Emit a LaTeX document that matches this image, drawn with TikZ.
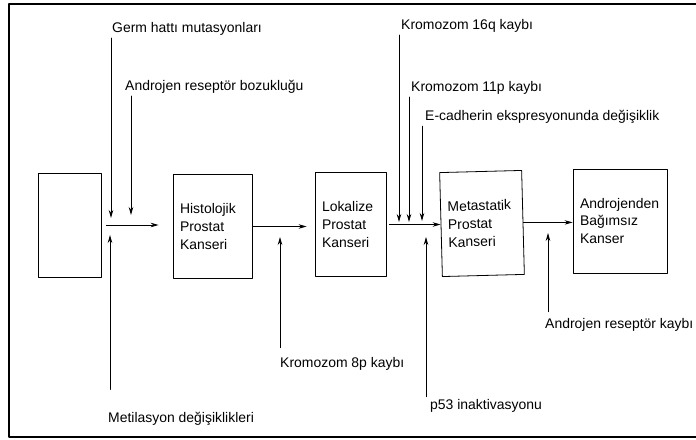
\documentclass[tikz,border=0pt]{standalone}
\usepackage{fontspec}
\setmainfont{Liberation Sans}
\usetikzlibrary{arrows.meta}
\tikzset{
  stage/.style={draw, line width=.8bp, align=left, inner xsep=7bp, inner ysep=0pt, minimum height=104bp, text width=#1},
  lbl/.style={anchor=base west, inner sep=2bp},
  arr/.style={-{Stealth[length=8bp,width=4.5bp]}, line width=.8bp},
  every picture/.style={line cap=round, line join=round}
}
\begin{document}
\begin{tikzpicture}[x=1bp, y=-1bp, font=\fontsize{14}{18}\selectfont]
  \useasboundingbox (0,0) rectangle (696,440);
  \draw[line width=2.6bp, line cap=butt] (696,4) -- (9,4) -- (9,437) -- (696,437);

  \node[stage=49bp] (norm) at (69.5,225) {};
  \node[stage=65bp] (histo) at (212.5,226.5) {Histolojik\\Prostat\\Kanseri};
  \node[stage=57bp] (lokal) at (350.5,224.5) {Lokalize\\Prostat\\Kanseri};
  \node[stage=68bp, rotate=1.5] (meta) at (482,223.5) {Metastatik\\Prostat\\Kanseri};
  \node[stage=80bp] (bagim) at (620,221) {Androjenden\\Bağımsız\\Kanser};

  \draw[arr, shorten <=5bp, shorten >=14bp] (norm.east) -- (norm.east -| histo.west);
  \draw[arr, shorten >=8bp] (histo.east) -- (histo.east -| lokal.west);
  \draw[arr, shorten <=3bp] (lokal.east) -- (lokal.east -| meta.west);
  \draw[arr] (meta.east) -- (meta.east -| bagim.west);

  \coordinate (tgerm) at (111,218);
  \coordinate (tarb) at (131,215);
  \coordinate (tmet) at (110,235);
  \coordinate (t8p) at (280,237);
  \coordinate (t16q) at (399,222);
  \coordinate (t11p) at (409,222);
  \coordinate (tecad) at (422,221);
  \coordinate (tp53) at (426,237);
  \coordinate (tark) at (548,233);

  \node[lbl] (germ) at (110,33) {Germ hattı mutasyonları};
  \node[lbl] (arboz) at (123,91) {Androjen reseptör bozukluğu};
  \node[lbl] (k16q) at (399,30) {Kromozom 16q kaybı};
  \node[lbl] (k11p) at (409,92) {Kromozom 11p kaybı};
  \node[lbl] (ecad) at (423,121) {E-cadherin ekspresyonunda değişiklik};
  \node[lbl] (met) at (106,422) {Metilasyon değişiklikleri};
  \node[lbl] (k8p) at (278,367) {Kromozom 8p kaybı};
  \node[lbl] (p53) at (428,409) {p53 inaktivasyonu};
  \node[lbl] (ark) at (543,329) {Androjen reseptör kaybı};

  \draw[arr] (germ.south -| tgerm) -- (tgerm);
  \draw[arr] (arboz.south -| tarb) -- (tarb);
  \draw[arr] (k16q.south -| t16q) -- (t16q);
  \draw[arr] (k11p.south -| t11p) -- (t11p);
  \draw[arr] (ecad.south -| tecad) -- (tecad);
  \draw[arr, shorten <=20bp] (met.north -| tmet) -- (tmet);
  \draw[arr, shorten <=7bp] (k8p.north -| t8p) -- (t8p);
  \draw[arr] (p53.north -| tp53) -- (tp53);
  \draw[arr, shorten <=5bp] (ark.north -| tark) -- (tark);
\end{tikzpicture}
\end{document}
